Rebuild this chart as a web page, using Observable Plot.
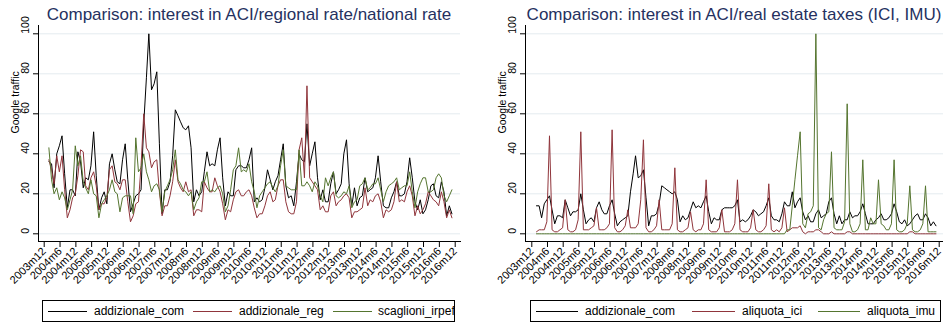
<!DOCTYPE html>
<html><head><meta charset="utf-8">
<script src="https://cdn.jsdelivr.net/npm/d3@7"></script>
<script src="https://cdn.jsdelivr.net/npm/@observablehq/plot@0.6"></script>
<style>
body{margin:0;background:#fff;}
#wrap{position:relative;width:943px;height:323px;overflow:hidden;font-family:"Liberation Sans",Arial,Helvetica,sans-serif;background:#fff;}
.title{position:absolute;top:5px;font-size:17px;line-height:20px;color:#25315f;text-align:center;white-space:nowrap;}
.plot{position:absolute;top:0;}
.legend{position:absolute;top:300px;height:20px;border:1px solid #000;overflow:hidden;background:#fff;}
.item{position:absolute;top:0;height:20px;line-height:20px;font-size:12px;white-space:nowrap;color:#000;}
.swatch{position:absolute;top:10px;height:0;border-top:1px solid;}
</style></head>
<body><div id="wrap"></div>
<script>
// ---- data (monthly, 2004m1 .. 2016m10) ----
const firstMonth = "2004m1";
const lastMonth = "2016m10";
const xTickLabels = ["2003m12","2004m6","2004m12","2005m6","2005m12","2006m6","2006m12","2007m6","2007m12","2008m6","2008m12","2009m6","2009m12","2010m6","2010m12","2011m6","2011m12","2012m6","2012m12","2013m6","2013m12","2014m6","2014m12","2015m6","2015m12","2016m6","2016m12"];
const yTicks = [0, 20, 40, 60, 80, 100];
const yTitle = "Google traffic";

const leftTitle = "Comparison: interest in ACI/regional rate/national rate";
const leftSeries = ["addizionale_com", "addizionale_reg", "scaglioni_irpef"];
const addizionaleCom = [
  36,35,23,40,44,49,30,13,22,22,19,41,
  36,23,28,27,34,51,29,12,18,21,15,35,
  40,32,26,25,37,45,27,11,15,19,20,22,
  55,78,100,72,75,81,45,10,22,22,26,39,
  62,59,56,53,52,54,43,16,22,19,21,31,
  41,34,35,34,42,48,28,14,21,19,19,32,
  34,34,33,33,37,43,16,18,16,17,23,32,
  27,22,26,29,37,45,24,18,19,14,26,40,
  37,36,55,34,40,46,28,17,22,16,16,25,
  31,20,22,25,40,47,25,14,23,14,18,19,
  28,21,22,23,28,39,26,14,13,13,18,21,
  26,19,19,20,26,38,28,16,12,17,10,12,
  17,24,25,19,18,26,21,9,14,10];
const addizionaleReg = [
  37,32,25,39,31,39,22,8,12,18,20,29,
  42,41,24,22,28,31,24,12,15,15,18,32,
  34,26,25,22,27,27,16,6,9,15,16,34,
  60,43,41,33,36,37,21,9,14,14,19,26,
  37,26,23,21,26,21,22,9,12,12,11,26,
  23,21,21,28,24,21,15,7,12,11,17,21,
  22,19,19,21,22,19,13,8,10,10,14,19,
  21,16,17,24,27,27,16,11,10,10,16,42,
  48,28,74,28,26,24,22,12,14,11,11,19,
  21,14,16,17,19,20,18,8,11,11,12,13,
  23,14,17,16,19,20,16,8,12,11,12,16,
  26,16,17,16,21,24,19,9,14,10,12,15,
  21,19,17,16,14,21,16,8,12,8];
const scaglioniIrpef = [
  43,27,20,23,17,21,18,12,17,22,44,34,
  39,26,23,20,27,20,19,8,15,17,19,22,
  27,21,20,11,18,19,19,19,10,48,31,33,
  40,31,27,21,24,25,22,11,21,24,27,32,
  42,27,25,22,21,19,21,12,16,18,26,26,
  31,21,22,21,23,24,20,11,14,22,32,34,
  43,31,32,31,35,26,21,13,19,21,23,25,
  26,23,21,24,34,42,24,23,22,22,22,42,
  24,24,26,24,21,26,24,19,16,28,24,28,
  31,19,18,19,21,20,24,13,16,17,24,25,
  28,22,23,25,25,28,22,16,21,24,25,26,
  28,22,23,24,24,31,21,13,21,25,28,28,
  21,21,22,28,30,28,19,16,19,22];

const rightTitle = "Comparison: interest in ACI/real estate taxes (ICI, IMU)";
const rightSeries = ["addizionale_com", "aliquota_ici", "aliquota_imu"];
const addizionaleComR = [
  14,14,8,15,17,19,12,5,9,9,8,17,
  13,9,11,11,12,20,12,5,7,8,6,13,
  16,12,10,10,14,17,10,4,6,7,8,9,
  21,30,39,28,29,32,18,4,9,9,10,15,
  24,23,22,21,20,21,17,6,9,7,8,12,
  16,13,14,13,16,19,11,5,8,7,7,12,
  13,13,13,13,14,17,6,7,6,7,9,12,
  11,9,10,11,14,18,9,7,7,6,10,16,
  14,14,21,13,16,18,11,7,9,6,6,10,
  12,8,9,10,16,18,10,5,9,5,7,7,
  11,8,9,9,11,15,10,5,5,5,7,8,
  10,7,7,8,10,15,11,6,5,7,4,5,
  7,9,10,7,7,10,8,4,6,4];
const aliquotaIci = [
  1,2,2,2,6,49,2,1,1,2,3,17,
  2,1,1,2,7,51,2,2,2,3,4,13,
  2,2,2,3,5,52,3,1,1,2,4,12,
  3,3,3,5,17,47,3,1,1,2,4,17,
  2,2,2,2,5,33,2,1,1,2,3,11,
  2,1,2,2,5,27,2,1,1,1,3,12,
  1,1,1,2,5,27,2,1,1,1,3,12,
  2,1,1,2,4,25,2,1,2,1,3,13,
  1,2,3,3,3,4,1,0,1,1,1,2,
  2,1,0,0,0,1,0,0,0,0,0,1,
  1,0,0,0,0,0,0,0,0,0,0,0,
  0,0,0,0,0,0,0,0,0,0,0,1,
  1,0,0,0,0,0,0,0,0,0];
const aliquotaImu = [
  0,0,0,0,0,0,0,0,0,0,0,0,
  0,0,0,0,0,0,0,0,0,0,0,0,
  0,0,0,0,0,0,0,0,0,0,0,0,
  0,0,0,0,0,0,0,0,0,0,0,0,
  0,0,0,0,0,0,0,0,0,0,0,0,
  0,0,0,0,0,0,0,0,0,0,0,0,
  0,0,0,0,0,0,0,0,0,0,0,0,
  0,0,0,0,0,0,0,0,0,0,0,0,
  2,2,14,27,39,51,5,3,10,11,14,100,
  3,2,7,10,11,41,3,2,2,2,6,65,
  5,1,1,2,5,37,2,2,8,5,5,27,
  5,4,2,2,5,37,2,1,1,2,5,24,
  2,1,1,2,5,24,1,1,1,1];

const seriesColors = ["#000000", "#90353b", "#55752f"];

// ---- helpers ----
const parseYM = s => { const [y, m] = s.split("m").map(Number); return new Date(Date.UTC(y, m - 1, 1)); };
const dates = d3.utcMonth.range(parseYM(firstMonth), d3.utcMonth.offset(parseYM(lastMonth), 1));
const xTickDates = xTickLabels.map(parseYM);
const fmtYM = d => `${d.getUTCFullYear()}m${d.getUTCMonth() + 1}`;
const FONT = '"Liberation Sans", Arial, Helvetica, sans-serif';

const wrap = document.getElementById("wrap");

function panel(cfg) {
  const H = 298, frameTop = 25, frameBottom = 241;
  const chart = Plot.plot({
    width: cfg.width,
    height: H,
    marginLeft: cfg.frameLeft,
    marginRight: cfg.width - cfg.frameRight,
    marginTop: frameTop,
    marginBottom: H - frameBottom,
    style: {fontFamily: FONT, fontSize: "11px", color: "#000", background: "transparent", overflow: "visible"},
    x: {type: "utc", domain: [xTickDates[0], xTickDates[xTickDates.length - 1]], range: cfg.xRange},
    y: {domain: [0, 100], range: [233.3, 33.3]},
    marks: [
      Plot.gridY(yTicks, {stroke: "#e4ecef", strokeOpacity: 1, strokeWidth: 1}),
      Plot.frame({anchor: "left", stroke: "#000"}),
      Plot.frame({anchor: "bottom", stroke: "#000"}),
      Plot.axisY(yTicks, {tickSize: 5, tickFormat: () => "", label: null}),
      Plot.text(yTicks, {y: d => d, text: d => String(d), frameAnchor: "left", dx: -13, rotate: -90, fontSize: 10.5, fill: "#000"}),
      Plot.text([yTitle], {text: d => d, frameAnchor: "left", dx: -23, rotate: -90, fontSize: 10.5, fill: "#000"}),
      Plot.axisX(xTickDates, {tickSize: 5, tickRotate: -45, tickFormat: fmtYM, fontSize: 11, label: null, tickPadding: 2, dx: -2, dy: 1}),
      ...cfg.values.map((vals, k) => Plot.lineY(vals, {x: (d, i) => dates[i], y: d => d, stroke: seriesColors[k], strokeWidth: 1}))
    ]
  });
  chart.classList.add("plot");
  chart.style.left = cfg.left + "px";
  wrap.appendChild(chart);

  const t = document.createElement("div");
  t.className = "title";
  t.textContent = cfg.title;
  t.style.left = (cfg.left + cfg.frameLeft) + "px";
  t.style.width = (cfg.frameRight - cfg.frameLeft) + "px";
  wrap.appendChild(t);

  const lg = document.createElement("div");
  lg.className = "legend";
  lg.style.left = cfg.legend.left + "px";
  lg.style.width = cfg.legend.width + "px";
  cfg.names.forEach((name, k) => {
    const sw = document.createElement("div");
    sw.className = "swatch";
    sw.style.left = cfg.legend.items[k][0] + "px";
    sw.style.width = cfg.legend.items[k][1] + "px";
    sw.style.borderTopColor = seriesColors[k];
    lg.appendChild(sw);
    const tx = document.createElement("div");
    tx.className = "item";
    tx.style.left = cfg.legend.items[k][2] + "px";
    tx.textContent = name;
    lg.appendChild(tx);
  });
  wrap.appendChild(lg);
}

panel({
  left: 0, width: 471, frameLeft: 38, frameRight: 460, xRange: [45.7, 456.7],
  title: leftTitle, names: leftSeries, values: [addizionaleCom, addizionaleReg, scaglioniIrpef],
  legend: {left: 42, width: 411, items: [[5, 39, 51], [150, 39, 196], [290, 39, 335]]}
});
panel({
  left: 471, width: 472, frameLeft: 54, frameRight: 472, xRange: [62.3, 469.7],
  title: rightTitle, names: rightSeries, values: [addizionaleComR, aliquotaIci, aliquotaImu],
  legend: {left: 530, width: 409, items: [[5, 42, 54], [161, 43, 211], [287, 42, 336]]}
});
</script></body></html>
